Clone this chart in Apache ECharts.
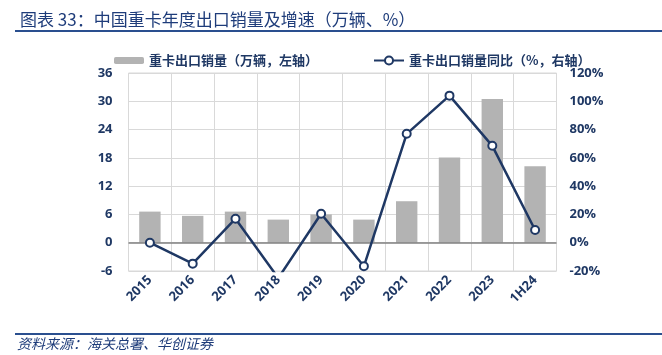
<!DOCTYPE html>
<html>
<head>
<meta charset="utf-8">
<script src="https://cdn.jsdelivr.net/npm/echarts@6/dist/echarts.min.js"></script>
<style>
html,body{margin:0;padding:0;background:#fff;}
#chart{width:662px;height:355px;}
</style>
</head>
<body>
<div id="chart"></div>
<script>
var categories = ['2015','2016','2017','2018','2019','2020','2021','2022','2023','1H24'];
var exportVolume = [6.6, 5.7, 6.6, 4.9, 6.0, 4.9, 8.8, 18.1, 30.5, 16.2];
var exportYoY = [0, -14.8, 17, -25, 20.5, -16.7, 77, 104, 68.5, 9];
var leftTicks = {min: -6, max: 36, interval: 6};
var rightTicks = {min: -20, max: 120, interval: 20};

var navy = '#1f3864';
var ruleColor = '#2a4f8f';
var chart = echarts.init(document.getElementById('chart'));
var numFont = '"Open Sans", "Noto Sans CJK SC", sans-serif';
var cjkFont = '"Noto Sans CJK SC", sans-serif';

chart.setOption({
  animation: false,
  title: {
    text: '图表 33：中国重卡年度出口销量及增速（万辆、%）',
    left: 15, top: 6,
    textStyle: {fontFamily: cjkFont, fontSize: 17, fontWeight: 'normal', color: '#1e3c7a'}
  },
  graphic: [
    {type: 'line', shape: {x1: 15, y1: 31, x2: 662, y2: 31}, style: {stroke: ruleColor, lineWidth: 2}},
    {type: 'line', shape: {x1: 15, y1: 334, x2: 662, y2: 334}, style: {stroke: ruleColor, lineWidth: 2}},
    {type: 'text', left: 17, top: 337, style: {text: '资料来源：海关总署、华创证券', font: 'italic 14px "Noto Sans CJK SC", sans-serif', fill: '#1e3c7a'}}
  ],
  legend: [
    {
      data: ['重卡出口销量（万辆，左轴）'],
      left: 109, top: 49,
      itemWidth: 30, itemHeight: 7,
      textStyle: {fontFamily: cjkFont, fontSize: 13, fontWeight: 'bold', color: navy}
    },
    {
      data: ['重卡出口销量同比（%，右轴）'],
      left: 368, top: 49,
      itemWidth: 30, itemHeight: 10,
      textStyle: {fontFamily: cjkFont, fontSize: 13, fontWeight: 'bold', color: navy}
    }
  ],
  grid: {
    left: 128.5, right: 105.5, top: 73, bottom: 84,
    show: true, borderColor: '#d9d9d9', borderWidth: 1
  },
  xAxis: {
    type: 'category',
    data: categories,
    axisLine: {show: false},
    axisTick: {show: false},
    splitLine: {show: true, lineStyle: {color: '#d9d9d9', width: 1}},
    axisLabel: {rotate: 45, margin: 7, fontFamily: numFont, fontSize: 13, fontWeight: 'bold', color: navy, interval: 0}
  },
  yAxis: [
    {
      type: 'value', min: leftTicks.min, max: leftTicks.max, interval: leftTicks.interval,
      axisLine: {show: false}, axisTick: {show: false},
      splitLine: {show: true, lineStyle: {color: '#d9d9d9', width: 1}},
      axisLabel: {margin: 16, fontFamily: numFont, fontSize: 13, fontWeight: 'bold', color: navy}
    },
    {
      type: 'value', min: rightTicks.min, max: rightTicks.max, interval: rightTicks.interval,
      axisLine: {show: false}, axisTick: {show: false},
      splitLine: {show: false},
      axisLabel: {margin: 13, formatter: '{value}%', fontFamily: numFont, fontSize: 13, fontWeight: 'bold', color: navy}
    }
  ],
  series: [
    {
      name: '重卡出口销量（万辆，左轴）',
      type: 'bar',
      yAxisIndex: 0,
      data: exportVolume,
      barWidth: '50%',
      itemStyle: {color: '#b3b3b3'},
      markLine: {
        silent: true, symbol: 'none',
        label: {show: false},
        lineStyle: {color: '#808080', type: 'solid', width: 1.5},
        data: [{yAxis: 0}]
      }
    },
    {
      name: '重卡出口销量同比（%，右轴）',
      type: 'line',
      yAxisIndex: 1,
      data: exportYoY,
      symbol: 'emptyCircle',
      symbolSize: 8,
      lineStyle: {color: navy, width: 2.5},
      itemStyle: {color: navy, borderColor: navy, borderWidth: 2.5},
      z: 5
    }
  ]
});
</script>
</body>
</html>
